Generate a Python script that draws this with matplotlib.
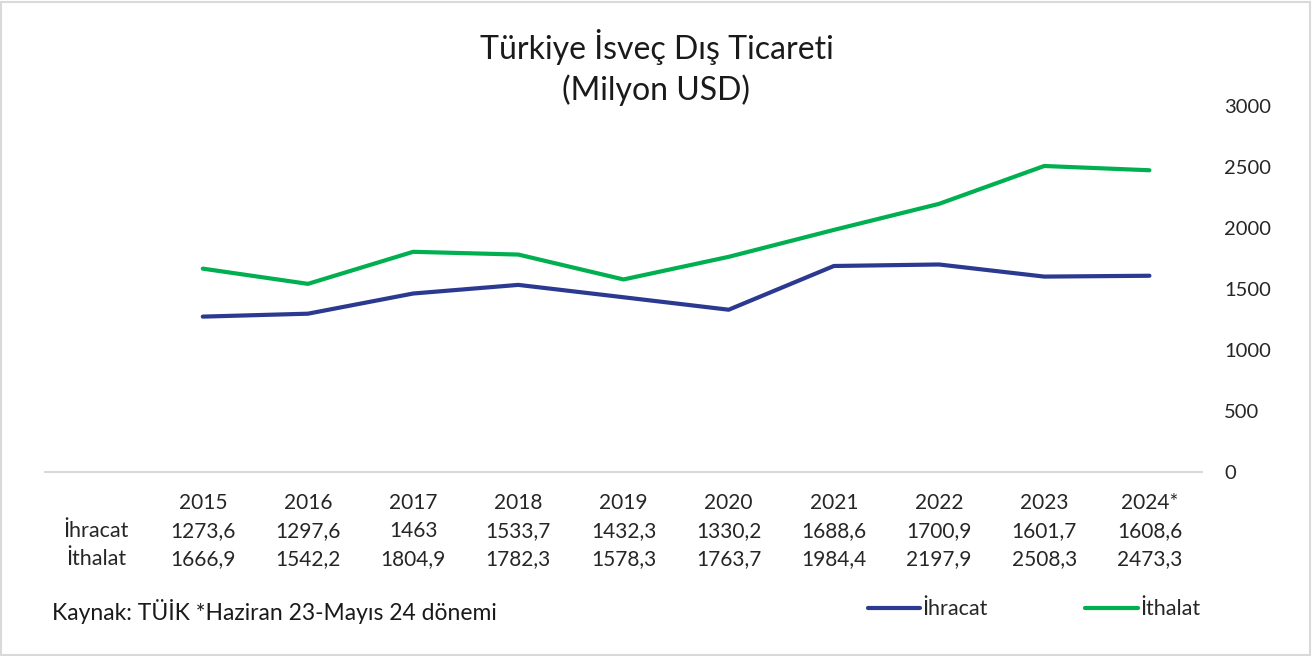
import matplotlib.pyplot as plt
from matplotlib.transforms import blended_transform_factory
from matplotlib.patches import Rectangle

years = ["2015", "2016", "2017", "2018", "2019", "2020", "2021", "2022", "2023", "2024*"]
ihracat = [1273.6, 1297.6, 1463, 1533.7, 1432.3, 1330.2, 1688.6, 1700.9, 1601.7, 1608.6]
ithalat = [1666.9, 1542.2, 1804.9, 1782.3, 1578.3, 1763.7, 1984.4, 2197.9, 2508.3, 2473.3]
ihracat_txt = ["1273,6", "1297,6", "1463", "1533,7", "1432,3", "1330,2", "1688,6", "1700,9", "1601,7", "1608,6"]
ithalat_txt = ["1666,9", "1542,2", "1804,9", "1782,3", "1578,3", "1763,7", "1984,4", "2197,9", "2508,3", "2473,3"]

plt.rcParams['font.family'] = ['Lato', 'DejaVu Sans']
blue = "#2B3990"
green = "#00B050"
W, H = 1313, 656

fig = plt.figure(figsize=(W / 100, H / 100), dpi=100)
ax = fig.add_axes([45 / W, 1 - 472 / H, (1202 - 45) / W, (472 - 106) / H])

x = range(len(years))
ax.plot(x, ihracat, color=blue, lw=3, solid_capstyle='round', label="İhracat")
ax.plot(x, ithalat, color=green, lw=3, solid_capstyle='round', label="İthalat")

ax.set_xlim(-1.5, 9.5)
ax.set_ylim(0, 3000)
ax.set_yticks(range(0, 3001, 500))
ax.yaxis.tick_right()
ax.tick_params(axis='y', length=0, pad=16, labelsize=14.5, labelcolor="#262626")
ax.set_xticks([])
for s in ["top", "left", "right"]:
    ax.spines[s].set_visible(False)
ax.spines["bottom"].set_color("#d9d9d9")
ax.spines["bottom"].set_linewidth(1.5)

# data table under the chart (baselines in px)
tr = blended_transform_factory(ax.transData, fig.transFigure)
rows = [(509, years), (537, ihracat_txt), (565, ithalat_txt)]
for ypx, vals in rows:
    for i, v in enumerate(vals):
        ax.text(i, 1 - ypx / H, v, transform=tr, ha='center', va='baseline',
                fontsize=15, color="#262626")
fig.text(96 / W, 1 - 537 / H, "İhracat", ha='center', va='baseline', fontsize=15.5, color="#262626")
fig.text(96 / W, 1 - 565 / H, "İthalat", ha='center', va='baseline', fontsize=15.5, color="#262626")

fig.text(0.5, 1 - 47 / H, "Türkiye İsveç Dış Ticareti", ha='center', va='center', fontsize=23, color="#1a1a1a")
fig.text(0.5, 1 - 90 / H, "(Milyon USD)", ha='center', va='center', fontsize=23, color="#1a1a1a")

fig.text(52 / W, 1 - 620 / H, "Kaynak: TÜİK *Haziran 23-Mayıs 24 dönemi", ha='left', va='baseline',
         fontsize=16.5, color="#1a1a1a")

# legend
for (x0, x1, col, lab) in [(868, 920, blue, "İhracat"), (1085, 1138, green, "İthalat")]:
    fig.add_artist(plt.Line2D([x0 / W, x1 / W], [1 - 608 / H] * 2, color=col, lw=3,
                              solid_capstyle='round', transform=fig.transFigure))
    fig.text((x1 + 2) / W, 1 - 615 / H, lab, ha='left', va='baseline', fontsize=15.5, color="#262626")

fig.add_artist(Rectangle((0.001, 0.002), 0.997, 0.995, transform=fig.transFigure,
                         fill=False, edgecolor="#d9d9d9", lw=1.5))

fig.savefig("out.png", dpi=100)
